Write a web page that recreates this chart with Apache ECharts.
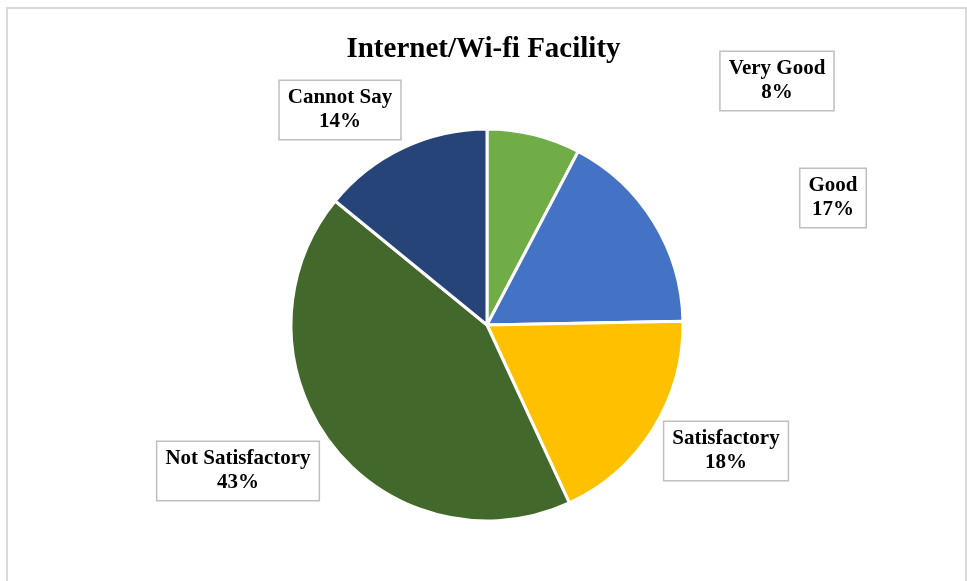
<!DOCTYPE html>
<html>
<head>
<meta charset="utf-8">
<title>Internet/Wi-fi Facility</title>
<script src="https://cdn.jsdelivr.net/npm/echarts@6/dist/echarts.min.js"></script>
<style>
html,body{margin:0;padding:0;background:#fff;}
#main{width:967px;height:581px;}
</style>
</head>
<body>
<div id="main"></div>
<script>
// 数据
var categories = ['Very Good', 'Good', 'Satisfactory', 'Not Satisfactory', 'Cannot Say'];
var shares = [7.7, 17.0, 18.4, 42.8, 14.1];
var colors = ['#70AD47', '#4472C4', '#FFC000', '#43682B', '#264478'];

// 标签框中心位置
var labelPos = [[777, 81], [833, 198], [726, 451], [238, 471], [340, 110]];

var serif = "'Liberation Serif', 'Times New Roman', serif";

var pieData = [];
for (var i = 0; i < categories.length; i++) {
	pieData.push({ name: categories[i], value: shares[i], itemStyle: { color: colors[i] } });
}

var myChart = echarts.init(document.getElementById('main'), null, { renderer: 'canvas' });

var option = {
	backgroundColor: '#fff',
	animation: false,
	title: {
		text: 'Internet/Wi-fi Facility',
		left: 'center',
		top: 30,
		textStyle: {
			fontFamily: serif,
			fontSize: 29,
			fontWeight: 'bold',
			color: '#000'
		}
	},
	graphic: [
		{
			type: 'rect',
			shape: { x: 7, y: 8, width: 959, height: 600 },
			style: { fill: 'none', stroke: '#d9d9d9', lineWidth: 2 },
			silent: true
		}
	],
	series: [
		{
			name: 'Internet/Wi-fi Facility',
			type: 'pie',
			center: [487, 325],
			radius: 196,
			startAngle: 90,
			clockwise: true,
			percentPrecision: 0,
			itemStyle: {
				borderColor: '#fff',
				borderWidth: 3
			},
			label: {
				show: true,
				position: 'outside',
				formatter: '{b}\n{d}%',
				fontFamily: serif,
				fontSize: 21,
				fontWeight: 'bold',
				lineHeight: 24,
				color: '#000',
				align: 'center',
				backgroundColor: '#fff',
				borderColor: '#bfbfbf',
				borderWidth: 1.5,
				padding: [5, 8, 5, 8]
			},
			labelLine: { show: false },
			labelLayout: function (params) {
				var p = labelPos[params.dataIndex];
				return { x: p[0], y: p[1], align: 'center', verticalAlign: 'middle', hideOverlap: false };
			},
			emphasis: { disabled: true },
			data: pieData
		}
	]
};

myChart.setOption(option);
</script>
</body>
</html>
